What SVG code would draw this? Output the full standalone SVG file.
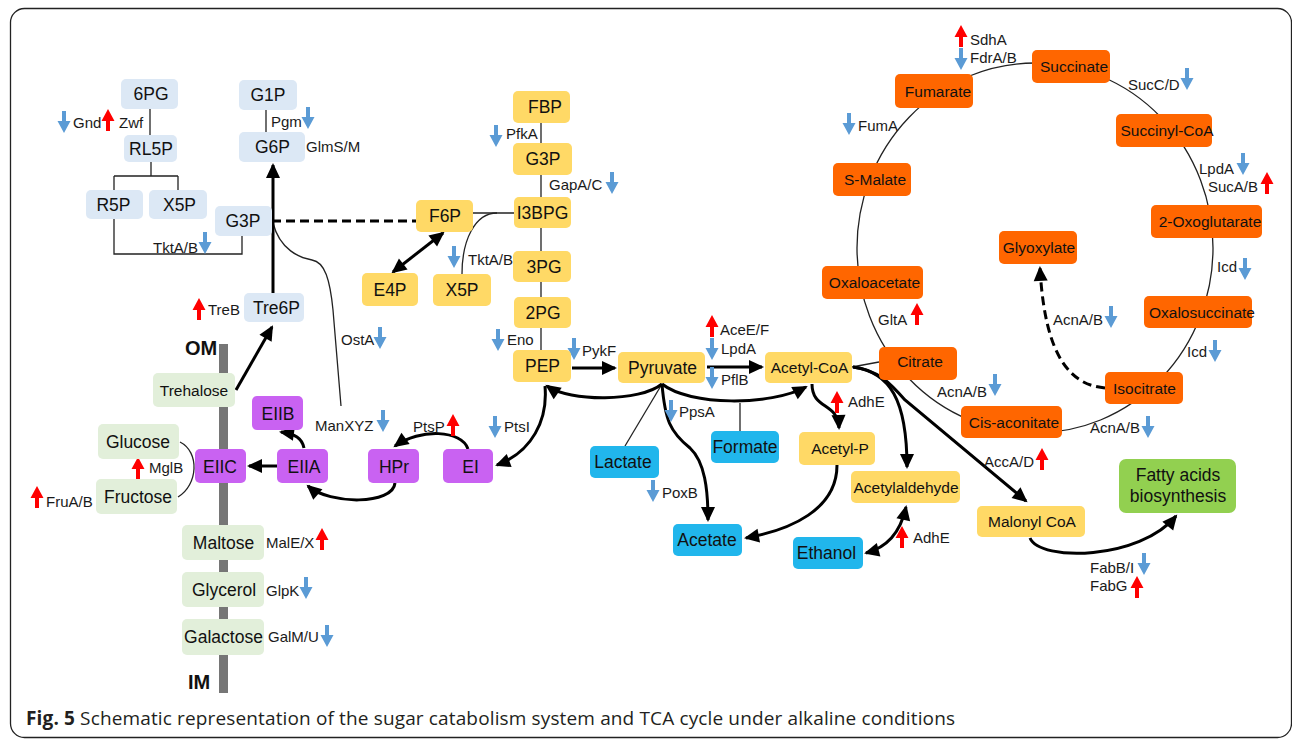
<svg xmlns="http://www.w3.org/2000/svg" xmlns:xlink="http://www.w3.org/1999/xlink" width="1292" height="740" viewBox="0 0 1292 740">
<style>
text{font-family:"Liberation Sans",Arial,sans-serif;fill:#111}
.nt{text-anchor:middle;font-size:17.5px}
.ns{text-anchor:middle;font-size:15.5px}
.lb{font-size:15px;fill:#1a1a1a}
.b{fill:#dce8f5}
.g{fill:#e2efda}
.p{fill:#c962f2}
.y{fill:#ffd966}
.c{fill:#21b6ec}
.o{fill:#ff6600}
.f{fill:#92d050}
.thin{fill:none;stroke:#222;stroke-width:1.3}
.thick{fill:none;stroke:#000;stroke-width:3}
.ah{marker-end:url(#ah)}
.ah2{marker-start:url(#ah);marker-end:url(#ah)}
.dash{stroke-dasharray:9 5}
</style>
<defs>
<marker id="ah" markerUnits="userSpaceOnUse" markerWidth="16" markerHeight="14" refX="13" refY="7" orient="auto-start-reverse" overflow="visible">
<path d="M0,0 L15,7 L0,14 Z" fill="#000"/>
</marker>
<g id="dn"><path d="M-2,0 H2 V10 H6.5 L0,22 L-6.5,10 H-2 Z" fill="#5b9bd5"/></g>
<g id="up"><path d="M0,0 L6.5,12 H2 V22 H-2 V12 H-6.5 Z" fill="#ff0000"/></g>
</defs>
<rect x="10.5" y="8.5" width="1281" height="729" rx="14" fill="none" stroke="#222" stroke-width="1.3"/>
<rect x="219" y="344" width="9" height="349" fill="#767676"/>
<text x="185" y="355" font-size="20" font-weight="bold">OM</text>
<text x="188" y="689" font-size="20" font-weight="bold">IM</text>
<g id="connectors">
<path class="thin" d="M150,109 V135"/>
<path class="thin" d="M151,162 V176 M114,176 H178 M114,176 V190 M178,176 V190"/>
<path class="thin" d="M114,219 V254 H242 V236"/>
<path class="thin" d="M266,110 V132"/>
<path class="thin" d="M273,223 C280,250 300,258 312,260 C325,262 330,280 333,310 L341,406"/>
<path class="thin" d="M180,442 C200,452 198,485 178,497"/>
<path class="thin" d="M541,123 V143 M541,175 V197 M541,228 V251 M541,282 V297 M541,328 V350"/>
<path class="thin" d="M473,213 H514"/>
<path class="thin" d="M462,274 C462,240 475,213 497,213"/>
<path class="thin" d="M662,384 L625,446"/>
<path class="thin" d="M740,403 V431"/>
<path class="thin" d="M852,367 L879,362"/>
<ellipse class="thin" cx="1035" cy="248" rx="178" ry="185"/>
<path class="thick ah" d="M273,293 V165"/>
<path class="thick ah" d="M236,390 L272,327"/>
<path class="thick dash" d="M272,221 H416"/>
<path class="thick ah2" d="M443,233 L393,272"/>
<path class="thick ah" d="M277,466 H249"/>
<path class="thick ah" d="M304,448 C302,438 295,434 281,432"/>
<path class="thick ah" d="M395,483 C393,505 330,505 308,486"/>
<path class="thick ah" d="M468,449 C462,430 420,428 395,446"/>
<path class="thick ah" d="M545,386 C548,420 532,452 497,465"/>
<path class="thick ah" d="M662,384 C640,402 570,402 547,386"/>
<path class="thick ah" d="M572,368 H615"/>
<path class="thick ah" d="M707,367 H762"/>
<path class="thick ah" d="M662,384 C690,406 770,406 806,387"/>
<path class="thick ah" d="M662,384 C665,420 670,432 690,448 C705,462 708,490 708,520"/>
<path class="thick ah" d="M812,384 C812,410 838,402 839,428"/>
<path class="thick ah" d="M853,367 C890,372 907,400 907,467"/>
<path class="thick ah" d="M853,367 C878,370 890,383 905,400 L1026,501"/>
<path class="thick ah" d="M837,465 C837,510 790,530 746,538"/>
<path class="thick ah2" d="M906,507 C900,535 885,548 866,553"/>
<path class="thick ah" d="M1030,538 C1040,562 1140,560 1176,516"/>
<path class="thick dash ah" d="M1105,388 C1072,385 1045,360 1040,268"/>
</g>
<g id="labels">
<text class="lb" x="73" y="128">Gnd</text><use href="#dn" x="64" y="111"/>
<text class="lb" x="119" y="128">Zwf</text><use href="#up" x="108" y="109"/>
<text class="lb" x="271" y="127">Pgm</text><use href="#dn" x="308" y="107"/>
<text class="lb" x="306" y="152">GlmS/M</text>
<text class="lb" x="153" y="253">TktA/B</text><use href="#dn" x="205" y="232"/>
<text class="lb" x="208" y="315">TreB</text><use href="#up" x="199" y="298"/>
<text class="lb" x="341" y="345">OstA</text><use href="#dn" x="380" y="327"/>
<text class="lb" x="315" y="431">ManXYZ</text><use href="#dn" x="383" y="410"/>
<text class="lb" x="413" y="432">PtsP</text><use href="#up" x="453" y="414"/>
<text class="lb" x="504" y="432">PtsI</text><use href="#dn" x="495" y="416"/>
<text class="lb" x="507" y="345">Eno</text><use href="#dn" x="498" y="329"/>
<text class="lb" x="149" y="473">MglB</text><use href="#up" x="138" y="457"/>
<text class="lb" x="46" y="507">FruA/B</text><use href="#up" x="37" y="486"/>
<text class="lb" x="266" y="548">MalE/X</text><use href="#up" x="322" y="528"/>
<text class="lb" x="266" y="596">GlpK</text><use href="#dn" x="306" y="577"/>
<text class="lb" x="268" y="642">GalM/U</text><use href="#dn" x="327" y="625"/>
<text class="lb" x="506" y="139">PfkA</text><use href="#dn" x="496" y="125"/>
<text class="lb" x="549" y="190">GapA/C</text><use href="#dn" x="612" y="172"/>
<text class="lb" x="468" y="265">TktA/B</text><use href="#dn" x="454" y="246"/>
<text class="lb" x="582" y="356">PykF</text><use href="#dn" x="574" y="338"/>
<text class="lb" x="720" y="335">AceE/F</text><use href="#up" x="712" y="315"/>
<text class="lb" x="721" y="354">LpdA</text><use href="#dn" x="712" y="338"/>
<text class="lb" x="721" y="385">PflB</text><use href="#dn" x="712" y="367"/>
<text class="lb" x="679" y="417">PpsA</text><use href="#dn" x="671" y="400"/>
<text class="lb" x="662" y="498">PoxB</text><use href="#dn" x="653" y="480"/>
<text class="lb" x="848" y="407">AdhE</text><use href="#up" x="837" y="391"/>
<text class="lb" x="984" y="467">AccA/D</text><use href="#up" x="1042" y="448"/>
<text class="lb" x="913" y="543">AdhE</text><use href="#up" x="902" y="526"/>
<text class="lb" x="1090" y="573">FabB/I</text><use href="#dn" x="1144" y="553"/>
<text class="lb" x="1090" y="591">FabG</text><use href="#up" x="1137" y="576"/>
<text class="lb" x="970" y="45">SdhA</text><use href="#up" x="961" y="25"/>
<text class="lb" x="970" y="63">FdrA/B</text><use href="#dn" x="961" y="48"/>
<text class="lb" x="1128" y="90">SucC/D</text><use href="#dn" x="1187" y="68"/>
<text class="lb" x="858" y="131">FumA</text><use href="#dn" x="849" y="113"/>
<text class="lb" x="1199" y="174">LpdA</text><use href="#dn" x="1243" y="153"/>
<text class="lb" x="1208" y="192">SucA/B</text><use href="#up" x="1267" y="172"/>
<text class="lb" x="1217" y="272">Icd</text><use href="#dn" x="1245" y="258"/>
<text class="lb" x="1187" y="357">Icd</text><use href="#dn" x="1215" y="340"/>
<text class="lb" x="878" y="325">GltA</text><use href="#up" x="917" y="303"/>
<text class="lb" x="1053" y="325">AcnA/B</text><use href="#dn" x="1111" y="306"/>
<text class="lb" x="937" y="397">AcnA/B</text><use href="#dn" x="995" y="374"/>
<text class="lb" x="1090" y="433">AcnA/B</text><use href="#dn" x="1148" y="416"/>
</g>
<g id="n-6PG"><rect class="b" x="121" y="79" width="57" height="30" rx="5"/><text class="nt" x="151" y="100">6PG</text></g>
<g id="n-G1P"><rect class="b" x="239" y="80" width="58" height="30" rx="5"/><text class="nt" x="268" y="101">G1P</text></g>
<g id="n-RL5P"><rect class="b" x="124" y="135" width="53" height="27" rx="5"/><text class="nt" x="151" y="154.5">RL5P</text></g>
<g id="n-G6P"><rect class="b" x="239" y="132" width="66" height="30" rx="5"/><text class="nt" x="272.5" y="153">G6P</text></g>
<g id="n-R5P"><rect class="b" x="86" y="190" width="57" height="29" rx="5"/><text class="nt" x="113.5" y="210.5">R5P</text></g>
<g id="n-X5P-b"><rect class="b" x="149" y="190" width="58" height="29" rx="5"/><text class="nt" x="179.5" y="210.5">X5P</text></g>
<g id="n-G3P-b"><rect class="b" x="215" y="206" width="57" height="30" rx="5"/><text class="nt" x="243" y="227">G3P</text></g>
<g id="n-Tre6P"><rect class="b" x="244" y="293" width="60" height="29" rx="5"/><text class="nt" x="276.5" y="313.5">Tre6P</text></g>
<g id="n-Trehalose"><rect class="g" x="153" y="373" width="82" height="34" rx="5"/><text class="ns" x="194" y="395.5">Trehalose</text></g>
<g id="n-Glucose"><rect class="g" x="98" y="424" width="81" height="35" rx="5"/><text class="nt" x="138" y="447.5">Glucose</text></g>
<g id="n-Fructose"><rect class="g" x="96" y="479" width="81" height="35" rx="5"/><text class="nt" x="138" y="502.5">Fructose</text></g>
<g id="n-Maltose"><rect class="g" x="182" y="525" width="82" height="35" rx="5"/><text class="nt" x="223.5" y="548.5">Maltose</text></g>
<g id="n-Glycerol"><rect class="g" x="182" y="572" width="82" height="35" rx="5"/><text class="nt" x="224" y="595.5">Glycerol</text></g>
<g id="n-Galactose"><rect class="g" x="182" y="619" width="82" height="36" rx="5"/><text class="nt" x="223.5" y="643">Galactose</text></g>
<g id="n-EIIC"><rect class="p" x="195" y="449" width="51" height="34" rx="5"/><text class="nt" x="220" y="472.5">EIIC</text></g>
<g id="n-EIIA"><rect class="p" x="277" y="449" width="51" height="34" rx="5"/><text class="nt" x="304" y="472.5">EIIA</text></g>
<g id="n-EIIB"><rect class="p" x="252" y="396" width="51" height="34" rx="5"/><text class="nt" x="278" y="420" font-size="20">EIIB</text></g>
<g id="n-HPr"><rect class="p" x="368" y="449" width="51" height="34" rx="5"/><text class="nt" x="394" y="472.5">HPr</text></g>
<g id="n-EI"><rect class="p" x="443" y="449" width="50" height="34" rx="5"/><text class="nt" x="470.5" y="472.5">EI</text></g>
<g id="n-FBP"><rect class="y" x="513" y="91" width="57" height="32" rx="5"/><text class="nt" x="545" y="113">FBP</text></g>
<g id="n-G3P-y"><rect class="y" x="513" y="143" width="59" height="32" rx="5"/><text class="nt" x="543" y="165">G3P</text></g>
<g id="n-I3BPG"><rect class="y" x="514" y="197" width="57" height="31" rx="5"/><text class="nt" x="542.5" y="218.5">I3BPG</text></g>
<g id="n-3PG"><rect class="y" x="513" y="251" width="58" height="31" rx="5"/><text class="nt" x="544" y="272.5">3PG</text></g>
<g id="n-2PG"><rect class="y" x="514" y="297" width="57" height="31" rx="5"/><text class="nt" x="543" y="318.5">2PG</text></g>
<g id="n-PEP"><rect class="y" x="513" y="350" width="58" height="32" rx="5"/><text class="nt" x="542.5" y="372">PEP</text></g>
<g id="n-F6P"><rect class="y" x="416" y="200" width="57" height="32" rx="5"/><text class="nt" x="445" y="222">F6P</text></g>
<g id="n-X5P-y"><rect class="y" x="433" y="274" width="58" height="32" rx="5"/><text class="nt" x="462" y="296">X5P</text></g>
<g id="n-E4P"><rect class="y" x="362" y="273" width="56" height="33" rx="5"/><text class="nt" x="390" y="295.5">E4P</text></g>
<g id="n-Pyruvate"><rect class="y" x="618" y="352" width="87" height="31" rx="5"/><text class="nt" x="662.5" y="374">Pyruvate</text></g>
<g id="n-AcetylCoA"><rect class="y" x="765" y="352" width="87" height="31" rx="5"/><text class="ns" x="809.5" y="373">Acetyl-CoA</text></g>
<g id="n-AcetylP"><rect class="y" x="799" y="432" width="76" height="33" rx="5"/><text class="ns" x="840" y="454">Acetyl-P</text></g>
<g id="n-Acetylaldehyde"><rect class="y" x="851" y="471" width="109" height="32" rx="5"/><text class="ns" x="906" y="492.5">Acetylaldehyde</text></g>
<g id="n-MalonylCoA"><rect class="y" x="977" y="506" width="108" height="31" rx="5"/><text class="ns" x="1032" y="527">Malonyl CoA</text></g>
<g id="n-Lactate"><rect class="c" x="590" y="446" width="69" height="32" rx="5"/><text class="nt" x="623" y="468">Lactate</text></g>
<g id="n-Formate"><rect class="c" x="711" y="431" width="68" height="32" rx="5"/><text class="nt" x="745" y="453">Formate</text></g>
<g id="n-Acetate"><rect class="c" x="673" y="524" width="69" height="32" rx="5"/><text class="nt" x="707" y="546">Acetate</text></g>
<g id="n-Ethanol"><rect class="c" x="793" y="537" width="70" height="32" rx="5"/><text class="nt" x="826.5" y="559">Ethanol</text></g>
<g id="n-Succinate"><rect class="o" x="1032" y="50" width="78" height="33" rx="5"/><text class="ns" x="1074" y="72">Succinate</text></g>
<g id="n-Fumarate"><rect class="o" x="895" y="74" width="78" height="34" rx="5"/><text class="ns" x="938" y="96.5">Fumarate</text></g>
<g id="n-SMalate"><rect class="o" x="833" y="163" width="78" height="33" rx="5"/><text class="ns" x="875" y="185">S-Malate</text></g>
<g id="n-SuccinylCoA"><rect class="o" x="1116" y="114" width="96" height="33" rx="5"/><text class="ns" x="1167" y="136">Succinyl-CoA</text></g>
<g id="n-Oxoglutarate"><rect class="o" x="1151" y="205" width="111" height="33" rx="5"/><text class="ns" x="1210" y="227">2-Oxoglutarate</text></g>
<g id="n-Glyoxylate"><rect class="o" x="999" y="231" width="78" height="33" rx="5"/><text class="ns" x="1039" y="253">Glyoxylate</text></g>
<g id="n-Oxaloacetate"><rect class="o" x="822" y="266" width="101" height="33" rx="5"/><text class="ns" x="874.5" y="288">Oxaloacetate</text></g>
<g id="n-Oxalosuccinate"><rect class="o" x="1144" y="296" width="108" height="32" rx="5"/><text class="ns" x="1202" y="317.5">Oxalosuccinate</text></g>
<g id="n-Citrate"><rect class="o" x="879" y="347" width="78" height="33" rx="5"/><text class="ns" x="920" y="367">Citrate</text></g>
<g id="n-Isocitrate"><rect class="o" x="1105" y="372" width="78" height="32" rx="5"/><text class="ns" x="1144.5" y="393.5">Isocitrate</text></g>
<g id="n-Cisaconitate"><rect class="o" x="961" y="406" width="101" height="32" rx="5"/><text class="ns" x="1014" y="427.5">Cis-aconitate</text></g>
<g id="n-FattyAcids"><rect class="f" x="1119" y="459" width="117" height="54" rx="7"/><text class="nt" x="1178" y="481" font-size="18">Fatty acids</text><text class="nt" x="1178" y="502" font-size="18">biosynthesis</text></g>
<text x="26" y="725" font-size="19" textLength="929" lengthAdjust="spacing" style="font-family:'Open Sans',sans-serif;fill:#231f20"><tspan font-weight="bold">Fig. 5</tspan> Schematic representation of the sugar catabolism system and TCA cycle under alkaline conditions</text>
</svg>
